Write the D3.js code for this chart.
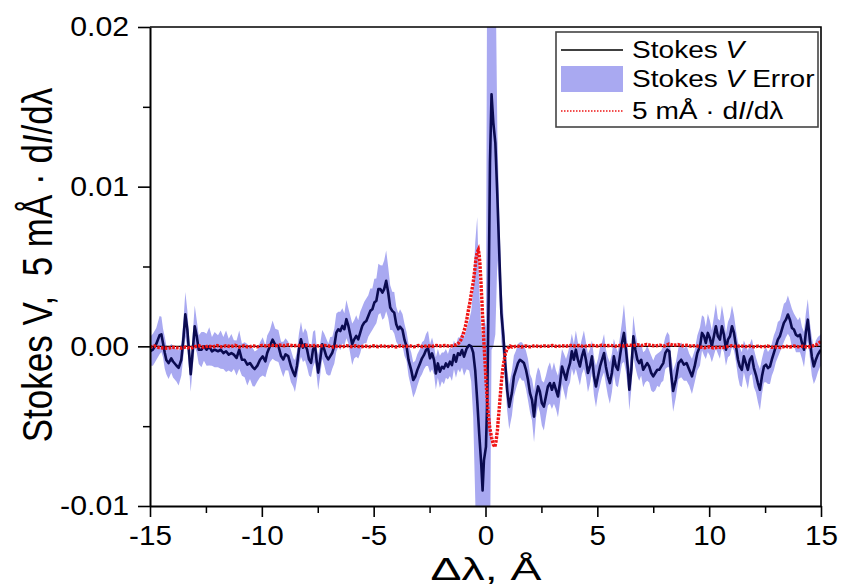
<!DOCTYPE html>
<html>
<head>
<meta charset="utf-8">
<script src="https://cdn.jsdelivr.net/npm/d3@7"></script>
<style>
  html, body { margin: 0; padding: 0; background: #fff; }
  svg { display: block; font-family: "Liberation Sans", Arial, sans-serif; }
</style>
</head>
<body>
<svg id="chart" width="843" height="586"></svg>
<script>
// Wavelength offsets (Å) of the Stokes V samples
const waveV = [
  -15.00,-14.87,-14.72,-14.57,-14.49,-14.42,-14.34,-14.27,-14.17,-14.05,
  -13.97,-13.82,-13.72,-13.60,-13.51,-13.42,-13.33,-13.24,-13.18,-13.11,
  -13.00,-12.91,-12.82,-12.70,-12.59,-12.47,-12.35,-12.23,-12.11,-11.96,
  -11.84,-11.72,-11.60,-11.48,-11.36,-11.25,-11.13,-11.01,-10.89,-10.77,
  -10.65,-10.53,-10.41,-10.32,-10.20,-10.08,-9.96,-9.84,-9.76,-9.64,
  -9.52,-9.40,
  -9.26,-9.14,-9.04,-8.94,-8.82,-8.70,-8.59,-8.52,-8.43,-8.34,
  -8.25,-8.16,-8.07,-7.98,-7.89,-7.80,-7.71,-7.62,-7.54,-7.48,
  -7.39,-7.30,-7.21,-7.12,-7.03,-6.94,-6.85,-6.76,-6.67,-6.58,
  -6.49,-6.40,-6.31,-6.22,-6.13,-6.05,-5.96,-5.87,-5.78,-5.69,
  -5.60,-5.51,-5.42,-5.33,-5.24,-5.15,-5.06,-4.97,-4.88,-4.79,
  -4.70,-4.61,-4.53,-4.44,-4.35,-4.26,-4.17,-4.08,-3.99,-3.90,
  -3.82,-3.71,-3.62,-3.53,-3.44,-3.32,-3.23,-3.14,-3.05,-2.93,
  -2.84,-2.75,-2.66,-2.57,-2.48,-2.39,-2.30,-2.22,-2.13,-2.04,
  -1.95,-1.86,-1.77,-1.68,-1.59,-1.50,-1.41,-1.32,-1.23,-1.14,
  -1.05,-0.96,-0.84,-0.73,-0.64,-0.55,-0.46,-0.37,-0.28,-0.19,
  -0.13,-0.07,0.02,0.08,0.14,0.20,0.27,0.35,0.44,0.53,
  0.62,0.71,0.80,0.88,0.97,1.06,
  1.18,1.27,1.36,1.45,1.54,1.63,1.72,1.81,1.90,1.99,
  2.08,2.17,2.26,2.35,2.43,2.52,2.61,2.70,2.79,2.88,
  2.97,3.06,3.15,3.24,3.33,3.42,3.51,3.60,3.69,3.78,
  3.86,3.95,4.04,4.13,4.22,4.31,4.40,4.49,4.58,4.67,
  4.76,4.85,4.94,5.03,5.12,5.21,5.30,5.38,5.47,5.56,
  5.65,5.74,5.83,5.92,6.01,6.10,6.19,6.28,6.37,6.43,
  6.52,6.61,6.70,6.79,6.87,6.96,7.05,7.14,7.23,7.32,
  7.41,7.50,7.59,7.68,7.77,7.86,7.95,8.04,8.13,8.22,
  8.28,8.39,8.51,8.63,8.75,8.87,8.99,9.11,9.23,9.35,
  9.47,9.59,9.68,9.77,9.85,9.94,10.03,10.12,10.21,10.30,
  10.39,10.48,10.57,10.66,10.75,10.84,10.93,11.02,11.11,11.20,
  11.29,11.37,11.46,11.55,11.64,11.73,11.82,11.91,12.00,12.09,
  12.18,12.27,12.36,12.45,12.54,12.63,12.72,12.80,12.89,12.98,
  13.07,13.16,13.25,13.34,13.43,13.52,13.61,13.70,13.79,13.88,
  13.97,14.06,14.15,14.24,14.32,14.41,14.50,14.59,14.68,14.77,
  14.86,14.95,15.00
];

// Stokes V profile
const stokesV = [
  -0.00031,-0.00021,0.00015,0.00070,0.00075,0.00021,-0.00040,-0.00085,-0.00105,-0.00075,
  -0.00095,-0.00120,-0.00135,-0.00084,0.00042,0.00200,0.00105,-0.00063,-0.00175,-0.00063,
  0.00126,0.00063,-0.00021,-0.00021,0.00000,-0.00021,0.00000,-0.00031,-0.00021,-0.00031,
  -0.00021,-0.00042,-0.00031,-0.00052,-0.00042,-0.00052,-0.00073,-0.00021,-0.00084,-0.00084,
  -0.00115,-0.00105,-0.00130,-0.00142,-0.00121,-0.00084,-0.00063,-0.00094,-0.00042,0.00000,
  0.00042,0.00010,
  0.00002,-0.00061,-0.00082,-0.00050,-0.00061,-0.00123,-0.00165,-0.00186,-0.00123,-0.00019,
  0.00044,-0.00008,0.00013,-0.00019,-0.00082,-0.00103,-0.00019,0.00002,-0.00103,-0.00165,
  -0.00082,0.00013,-0.00019,-0.00061,-0.00082,-0.00061,-0.00040,0.00002,0.00086,0.00107,
  0.00096,0.00128,0.00107,0.00170,0.00128,0.00075,0.00013,0.00044,0.00065,0.00044,
  0.00086,0.00128,0.00149,0.00159,0.00190,0.00222,0.00232,0.00274,0.00285,0.00358,
  0.00358,0.00337,0.00358,0.00410,0.00337,0.00243,0.00222,0.00211,0.00138,0.00107,
  0.00123,0.00103,0.00040,0.00000,-0.00086,-0.00149,-0.00211,-0.00190,-0.00149,-0.00107,
  -0.00075,-0.00054,-0.00023,-0.00013,-0.00075,-0.00044,-0.00086,-0.00170,-0.00107,-0.00159,
  -0.00128,-0.00138,-0.00107,-0.00128,-0.00096,-0.00117,-0.00054,-0.00096,-0.00044,-0.00054,
  -0.00023,-0.00065,-0.00013,0.00008,0.00000,-0.00040,-0.00150,-0.00340,-0.00550,-0.00740,
  -0.00902,-0.00714,-0.00630,-0.00316,0.00312,0.01149,0.01578,0.01400,0.01275,0.00940,
  0.00563,0.00207,0.00061,-0.00107,-0.00274,-0.00379,
  -0.00293,-0.00188,-0.00147,-0.00105,-0.00084,-0.00094,-0.00105,-0.00147,-0.00209,-0.00293,
  -0.00335,-0.00440,-0.00314,-0.00251,-0.00283,-0.00356,-0.00377,-0.00314,-0.00251,-0.00230,
  -0.00272,-0.00230,-0.00272,-0.00314,-0.00230,-0.00126,-0.00167,-0.00209,-0.00147,-0.00105,
  -0.00031,-0.00084,-0.00021,-0.00084,-0.00126,-0.00063,-0.00021,-0.00084,-0.00167,-0.00126,
  -0.00063,-0.00188,-0.00251,-0.00188,-0.00126,-0.00084,-0.00042,-0.00126,-0.00188,-0.00230,
  -0.00167,-0.00063,-0.00126,-0.00147,-0.00063,0.00021,0.00084,-0.00021,-0.00147,-0.00272,
  -0.00147,0.00063,-0.00021,-0.00084,-0.00105,-0.00084,-0.00147,-0.00126,-0.00105,-0.00126,
  -0.00167,-0.00188,-0.00167,-0.00147,-0.00147,-0.00126,-0.00105,-0.00042,-0.00021,-0.00031,
  -0.00147,-0.00280,-0.00209,-0.00105,-0.00084,-0.00115,-0.00105,-0.00147,-0.00188,-0.00126,
  -0.00042,0.00000,0.00084,0.00063,0.00021,0.00084,0.00052,0.00000,0.00063,0.00126,
  0.00063,0.00042,0.00126,0.00073,-0.00021,0.00042,0.00063,0.00126,0.00084,0.00000,
  -0.00084,-0.00126,-0.00147,-0.00063,-0.00105,-0.00147,-0.00084,-0.00063,-0.00136,-0.00178,
  -0.00230,-0.00272,-0.00188,-0.00126,-0.00115,-0.00136,-0.00126,-0.00084,-0.00042,0.00000,
  0.00042,0.00063,0.00105,0.00147,0.00167,0.00199,0.00167,0.00115,0.00105,0.00073,
  0.00063,0.00073,0.00021,-0.00021,0.00084,0.00167,0.00042,-0.00063,-0.00126,-0.00084,
  -0.00052,-0.00031,-0.00021
];

// One-sigma uncertainty of Stokes V
const stokesErr = [
  .0009,.0010,.0010,.0012,.0011,.0009,.0010,.0009,.0010,.0009,
  .0010,.0010,.0011,.0010,.0011,.0014,.0012,.0010,.0011,.0010,
  .0013,.0010,.0009,.0011,.0009,.0010,.0012,.0009,.0011,.0010,
  .0012,.0010,.0013,.0010,.0012,.0009,.0011,.0012,.0010,.0011,
  .0013,.0010,.0012,.0011,.0010,.0011,.0012,.0010,.0011,.0010,
  .0012,.0010,
  .0010,.0009,.0011,.0010,.0009,.0010,.0009,.0010,.0009,.0010,
  .0011,.0009,.0010,.0011,.0010,.0009,.0011,.0010,.0009,.0011,
  .0010,.0009,.0010,.0011,.0010,.0012,.0010,.0011,.0012,.0011,
  .0012,.0011,.0010,.0012,.0011,.0012,.0013,.0012,.0013,.0012,
  .0013,.0012,.0013,.0014,.0013,.0014,.0013,.0015,.0014,.0016,
  .0015,.0017,.0018,.0019,.0016,.0014,.0012,.0013,.0011,.0010,
  .0011,.0010,.0010,.0009,.0010,.0011,.0011,.0010,.0010,.0009,
  .0010,.0009,.0010,.0011,.0009,.0010,.0009,.0010,.0009,.0010,
  .0009,.0010,.0009,.0008,.0009,.0010,.0009,.0010,.0010,.0011,
  .0011,.0012,.0013,.0016,.0022,.0040,.0080,.0115,.0090,.0085,
  .0095,.0090,.0075,.0300,.0300,.0250,.0160,.0140,.0120,.0040,
  .0025,.0018,.0014,.0013,.0013,.0014,
  .0014,.0013,.0012,.0012,.0011,.0012,.0011,.0012,.0013,.0012,
  .0013,.0016,.0013,.0012,.0013,.0014,.0015,.0013,.0012,.0013,
  .0012,.0013,.0012,.0013,.0012,.0011,.0012,.0013,.0011,.0012,
  .0011,.0010,.0012,.0011,.0012,.0011,.0012,.0011,.0012,.0011,
  .0010,.0012,.0013,.0011,.0012,.0011,.0012,.0011,.0012,.0013,
  .0012,.0011,.0012,.0011,.0012,.0013,.0018,.0014,.0012,.0013,
  .0012,.0013,.0011,.0010,.0011,.0010,.0011,.0010,.0011,.0010,
  .0011,.0010,.0011,.0010,.0011,.0010,.0011,.0010,.0011,.0010,
  .0011,.0013,.0011,.0010,.0011,.0010,.0011,.0010,.0011,.0010,
  .0011,.0012,.0011,.0012,.0010,.0012,.0011,.0010,.0012,.0014,
  .0011,.0012,.0013,.0011,.0010,.0011,.0012,.0013,.0011,.0010,
  .0011,.0012,.0011,.0010,.0011,.0012,.0010,.0011,.0012,.0011,
  .0012,.0013,.0011,.0010,.0011,.0010,.0011,.0010,.0011,.0010,
  .0011,.0010,.0011,.0012,.0011,.0012,.0011,.0012,.0010,.0011,
  .0010,.0011,.0010,.0011,.0012,.0013,.0011,.0012,.0011,.0012,
  .0011,.0010,.0010
];

// Wavelength offsets (Å) of the scaled intensity derivative
const waveRed = [
  -15.0,-14.8,-14.6,-14.4,-14.2,-14.0,-13.8,-13.6,-13.4,-13.2,
  -13.0,-12.8,-12.6,-12.4,-12.2,-12.0,-11.8,-11.6,-11.4,-11.2,
  -11.0,-10.8,-10.6,-10.4,-10.2,-10.0,-9.8,-9.6,-9.4,-9.2,
  -9.0,-8.8,-8.6,-8.4,-8.2,-8.0,-7.8,-7.6,-7.4,-7.2,
  -7.0,-6.8,-6.6,-6.4,-6.2,-6.0,-5.8,-5.6,-5.4,-5.2,
  -5.0,-4.8,-4.6,-4.4,-4.2,-4.0,-3.8,-3.6,-3.4,-3.2,
  -3.0,-2.8,-2.6,-2.4,-2.2,-2.0,-1.8,-1.6,-1.4,-1.3,
  -1.2,-1.1,-1.0,-0.9,-0.84,-0.76,-0.69,-0.62,-0.55,-0.48,
  -0.43,-0.37,-0.32,-0.28,-0.25,-0.21,-0.17,-0.12,-0.07,-0.02,
  0.02,0.07,0.12,0.19,0.27,0.35,0.42,0.47,0.53,0.57,
  0.62,0.67,0.72,0.77,0.83,0.89,0.95,1.02,1.1,1.2,
  1.4,1.6,1.8,2.0,2.2,2.4,2.6,2.8,3.0,3.2,
  3.4,3.6,3.8,4.0,4.2,4.4,4.6,4.8,5.0,5.2,
  5.4,5.6,5.8,6.0,6.2,6.4,6.6,6.8,7.0,7.2,
  7.4,7.6,7.8,8.0,8.2,8.4,8.6,8.8,9.0,9.2,
  9.4,9.6,9.8,10.0,10.2,10.4,10.6,10.8,11.0,11.2,
  11.4,11.6,11.8,12.0,12.2,12.4,12.6,12.8,13.0,13.2,
  13.4,13.6,13.8,14.0,14.2,14.4,14.6,14.8,15.0
];

// 5 mÅ · dI/dλ
const redV = [
  -0.00005,0.00002,-0.00008,-0.00010,-0.00012,-0.00006,-0.00009,-0.00011,-0.00004,-0.00013,
  -0.00002,0.00003,-0.00006,0.00002,-0.00004,0.00005,-0.00003,0.00004,-0.00002,0.00006,
  -0.00004,0.00003,-0.00005,0.00004,-0.00003,0.00006,0.00002,0.00007,0.00003,0.00008,
  0.00004,0.00009,0.00003,0.00006,0.00002,0.00007,0.00003,0.00005,0.00001,0.00006,
  0.00002,-0.00004,0.00003,-0.00003,0.00004,-0.00002,0.00003,-0.00004,0.00002,-0.00003,
  0.00003,-0.00002,0.00004,-0.00003,0.00002,-0.00004,0.00003,-0.00002,0.00004,-0.00003,
  0.00005,-0.00002,0.00004,-0.00001,0.00006,0.00002,0.00005,0.00001,0.00006,0.00010,
  0.00020,0.00040,0.00075,0.00125,0.00165,0.00230,0.00280,0.00345,0.00400,0.00480,
  0.00545,0.00590,0.00605,0.00570,0.00520,0.00420,0.00310,0.00160,0.00020,-0.00100,
  -0.00210,-0.00320,-0.00420,-0.00510,-0.00570,-0.00615,-0.00630,-0.00595,-0.00530,-0.00460,
  -0.00380,-0.00290,-0.00210,-0.00145,-0.00090,-0.00045,-0.00020,-0.00008,0.00002,-0.00005,
  0.00003,-0.00004,0.00002,-0.00003,0.00004,-0.00002,0.00003,0.00001,0.00005,-0.00002,
  0.00004,0.00001,0.00006,0.00002,0.00005,-0.00001,0.00004,0.00006,0.00002,0.00007,
  0.00003,0.00006,0.00001,0.00005,0.00002,0.00008,0.00004,0.00010,0.00005,0.00012,
  0.00006,0.00003,0.00007,0.00002,0.00014,0.00006,0.00011,0.00004,0.00007,0.00001,
  0.00005,-0.00004,-0.00009,-0.00003,-0.00010,-0.00005,-0.00008,-0.00002,0.00004,-0.00001,
  0.00003,-0.00002,0.00002,-0.00003,0.00001,-0.00004,0.00002,-0.00006,-0.00003,-0.00008,
  0.00001,-0.00004,0.00002,-0.00003,0.00001,-0.00005,0.00002,0.00010,0.00030
];

// Axis ticks and their labels
const xTicks = [-15, -10, -5, 0, 5, 10, 15];
const xTickLabels = ["-15", "-10", "-5", "0", "5", "10", "15"];
const xMinorTicks = [-12.5, -7.5, -2.5, 2.5, 7.5, 12.5];
const yTicks = [-0.01, 0, 0.01, 0.02];
const yTickLabels = ["-0.01", "0.00", "0.01", "0.02"];
const yMinorTicks = [-0.005, 0.005, 0.015];

const svg = d3.select("#chart");
const FONT = "'Liberation Sans', Arial, sans-serif";
const plot = { left: 150, right: 821, top: 27, bottom: 506 };
const NB = "\u00a0";

const x = d3.scaleLinear().domain([-15, 15]).range([plot.left, plot.right]);
const y = d3.scaleLinear().domain([-0.01, 0.02]).range([plot.bottom, plot.top]);

svg.append("defs").append("clipPath").attr("id", "plotClip")
  .append("rect")
  .attr("x", plot.left).attr("y", plot.top)
  .attr("width", plot.right - plot.left).attr("height", plot.bottom - plot.top);

const stokesRows = waveV.map((w, i) => ({ w, v: stokesV[i], e: stokesErr[i] }));
const derivRows = waveRed.map((w, i) => ({ w, v: redV[i] }));

const data = svg.append("g").attr("clip-path", "url(#plotClip)");

// error band
data.append("path")
  .datum(stokesRows)
  .attr("fill", "#a9a9f1")
  .attr("d", d3.area()
    .x(d => x(d.w))
    .y0(d => y(d.v - d.e))
    .y1(d => y(d.v + d.e)));

// zero reference
data.append("line")
  .attr("x1", plot.left).attr("x2", plot.right)
  .attr("y1", y(0)).attr("y2", y(0))
  .attr("stroke", "#000").attr("stroke-width", 1.2);

// Stokes V
data.append("path")
  .datum(stokesRows)
  .attr("fill", "none")
  .attr("stroke", "#0b0b50")
  .attr("stroke-width", 2.6)
  .attr("stroke-linejoin", "round")
  .attr("d", d3.line().x(d => x(d.w)).y(d => y(d.v)));

// scaled derivative, dotted
data.append("path")
  .datum(derivRows)
  .attr("fill", "none")
  .attr("stroke", "#f01414")
  .attr("stroke-width", 3.4)
  .attr("stroke-dasharray", "2.6,1.2")
  .attr("d", d3.line().x(d => x(d.w)).y(d => y(d.v)));

// frame (top and right)
svg.append("path")
  .attr("d", `M${plot.left},${plot.top}H${plot.right}V${plot.bottom}`)
  .attr("fill", "none").attr("stroke", "#000").attr("stroke-width", 1.6);

// x axis
const xAxis = svg.append("g")
  .attr("transform", `translate(0,${plot.bottom})`)
  .call(d3.axisBottom(x).tickValues(xTicks).tickSize(11).tickSizeOuter(0).tickPadding(8)
    .tickFormat(d => xTickLabels[xTicks.indexOf(d)]));
svg.append("g")
  .attr("transform", `translate(0,${plot.bottom})`)
  .call(d3.axisBottom(x).tickValues(xMinorTicks).tickSize(7).tickFormat(""))
  .call(g => g.select(".domain").remove())
  .selectAll("line").attr("stroke-width", 1.5);

// y axis
const yAxis = svg.append("g")
  .attr("transform", `translate(${plot.left},0)`)
  .call(d3.axisLeft(y).tickValues(yTicks).tickSize(12).tickSizeOuter(0).tickPadding(10)
    .tickFormat(d => yTickLabels[yTicks.indexOf(d)]));
svg.append("g")
  .attr("transform", `translate(${plot.left},0)`)
  .call(d3.axisLeft(y).tickValues(yMinorTicks).tickSize(7).tickFormat(""))
  .call(g => g.select(".domain").remove())
  .selectAll("line").attr("stroke-width", 1.5);

[xAxis, yAxis].forEach(a => {
  a.attr("font-family", FONT);
  a.select(".domain").attr("stroke-width", 2);
  a.selectAll(".tick line").attr("stroke-width", 1.6);
  a.selectAll("text").attr("font-size", 28).attr("fill", "#000");
});
xAxis.selectAll("text").attr("transform", "scale(1.06,1)");
yAxis.selectAll("text").attr("x", 0).attr("transform", "translate(-21,0) scale(1.08,1)");

// axis titles
svg.append("text")
  .attr("transform", "translate(486,580) scale(1.45,1)")
  .attr("text-anchor", "middle")
  .attr("font-family", FONT).attr("font-size", 32).attr("fill", "#000")
  .text("Δλ, Å");

const yTitle = svg.append("text")
  .attr("transform", "translate(52,265) scale(1.2,1) rotate(-90)")
  .attr("text-anchor", "middle")
  .attr("font-family", FONT).attr("font-size", 35).attr("fill", "#000");
yTitle.append("tspan").text("Stokes V," + NB + NB + "5 mÅ · d");
yTitle.append("tspan").attr("font-style", "italic").text("I");
yTitle.append("tspan").text("/dλ");

// legend
const legend = svg.append("g").attr("font-family", FONT);
legend.append("rect")
  .attr("x", 556).attr("y", 32).attr("width", 262).attr("height", 95)
  .attr("fill", "#fff").attr("stroke", "#444").attr("stroke-width", 1.6);

legend.append("line")
  .attr("x1", 561).attr("x2", 623).attr("y1", 50).attr("y2", 50)
  .attr("stroke", "#000").attr("stroke-width", 1.6);
legend.append("rect")
  .attr("x", 561).attr("y", 66).attr("width", 62).attr("height", 26)
  .attr("fill", "#a9a9f1");
legend.append("line")
  .attr("x1", 561).attr("x2", 623).attr("y1", 111).attr("y2", 111)
  .attr("stroke", "#ee1515").attr("stroke-width", 1.6).attr("stroke-dasharray", "1.5,1.5");

function legendText(yBase, parts) {
  const t = legend.append("text")
    .attr("transform", `translate(632,${yBase}) scale(1.17,1)`)
    .attr("font-size", 24).attr("fill", "#000");
  parts.forEach(p => {
    const s = t.append("tspan").text(p[0]);
    if (p[1]) s.attr("font-style", "italic");
  });
}
legendText(58, [["Stokes "], ["V", true]]);
legendText(87, [["Stokes "], ["V", true], [" Error"]]);
legendText(119, [["5 mÅ · d"], ["I", true], ["/dλ"]]);
</script>
</body>
</html>
